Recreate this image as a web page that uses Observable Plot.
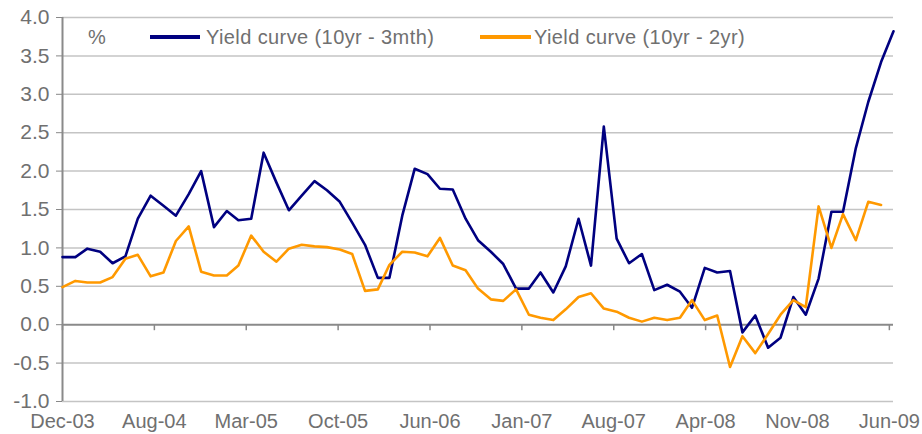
<!DOCTYPE html>
<html><head><meta charset="utf-8">
<script src="https://cdn.jsdelivr.net/npm/d3@7"></script>
<script src="https://cdn.jsdelivr.net/npm/@observablehq/plot@0.6"></script>
<style>
html,body{margin:0;padding:0;background:#fff;}
#wrap{position:relative;width:922px;height:434px;overflow:hidden;font-family:"Liberation Sans",Arial,sans-serif;}
#wrap svg{display:block;}
.leg{position:absolute;top:25px;height:24px;line-height:24px;font-size:20px;color:#707070;letter-spacing:0.4px;white-space:nowrap;}
.sw{position:absolute;height:4px;top:35px;}
</style></head><body><div id="wrap"></div>
<script>
// Series names
const seriesNames = ["Yield curve (10yr - 3mth)", "Yield curve (10yr - 2yr)"];
// Monthly values, Dec-03 .. Jun-09 (month ends)
const curve10y3m = [0.88,0.88,0.99,0.95,0.80,0.89,1.38,1.68,1.55,1.42,1.70,2.00,1.27,1.48,1.36,1.38,2.24,1.85,1.49,1.68,
  1.87,1.75,1.60,1.33,1.04,0.61,0.61,1.42,2.03,1.96,1.77,1.76,1.38,1.10,0.95,0.79,0.47,0.47,0.68,0.42,
  0.76,1.38,0.77,2.58,1.12,0.80,0.92,0.45,0.52,0.43,0.22,0.74,0.68,0.70,-0.10,0.12,-0.30,-0.17,0.36,0.13,
  0.60,1.47,1.47,2.30,2.90,3.42,3.82];
const curve10y2y = [0.49,0.57,0.55,0.55,0.62,0.86,0.91,0.63,0.68,1.09,1.28,0.69,0.64,0.64,0.77,1.16,0.95,0.82,0.99,1.04,
  1.02,1.01,0.98,0.92,0.44,0.46,0.78,0.95,0.94,0.89,1.13,0.77,0.71,0.47,0.33,0.31,0.46,0.13,0.09,0.06,
  0.20,0.36,0.41,0.21,0.17,0.09,0.04,0.09,0.06,0.09,0.32,0.06,0.12,-0.55,-0.15,-0.37,-0.12,0.13,0.32,0.23,
  1.54,1.00,1.44,1.10,1.60,1.56];
const xTickLabels = ["Dec-03","Aug-04","Mar-05","Oct-05","Jun-06","Jan-07","Aug-07","Apr-08","Nov-08","Jun-09"];
const yTicks = [-1,-0.5,0,0.5,1,1.5,2,2.5,3,3.5,4];
const colors = ["#000080", "#ff9900"];

const dates = curve10y3m.map((_, i) => new Date(Date.UTC(2004, i, 0)));
const tickDates = xTickLabels.map((_, k) => d3.utcDay.offset(dates[0], 222 * k));
const rows3m = curve10y3m.map((v, i) => ({date: dates[i], value: v}));
const rows2y = curve10y2y.map((v, i) => ({date: dates[i], value: v}));

const chart = Plot.plot({
  width: 922, height: 434,
  marginLeft: 62, marginRight: 29, marginTop: 17, marginBottom: 33,
  style: {fontFamily: "Liberation Sans, Arial, sans-serif", fontSize: "20px", color: "#707070", background: "white"},
  x: {type: "utc", domain: [dates[0], dates[dates.length - 1]]},
  y: {domain: [-1, 4]},
  marks: [
    Plot.ruleY(yTicks.filter(d => d !== 0), {stroke: "#c4c4c4", strokeWidth: 1.5}),
    Plot.ruleX(tickDates, {x: d => d, y1: () => 0, y2: () => 0, insetBottom: -6, stroke: "#888", strokeWidth: 1.5}),
    Plot.ruleY([0], {stroke: "#8a8a8a", strokeWidth: 2}),
    Plot.ruleX([dates[0]], {stroke: "#8a8a8a", strokeWidth: 2}),
    Plot.axisY({ticks: yTicks, tickFormat: d => d.toFixed(1), tickSize: 6, tickPadding: 7, stroke: "#888", label: null, fontSize: 21}),
    Plot.axisX({ticks: tickDates, tickFormat: d => xTickLabels[tickDates.findIndex(t => +t === +d)], tickSize: 0, tickPadding: 12, label: null}),
    Plot.line(rows3m, {x: "date", y: "value", stroke: colors[0], strokeWidth: 2.6}),
    Plot.line(rows2y, {x: "date", y: "value", stroke: colors[1], strokeWidth: 2.6})
  ]
});
const wrap = document.getElementById("wrap");
wrap.appendChild(chart);

function add(cls, css, text) {
  const el = document.createElement("div");
  el.className = cls;
  Object.assign(el.style, css);
  if (text) el.textContent = text;
  wrap.appendChild(el);
}
add("leg", {left: "88px"}, "%");
add("sw", {left: "150px", width: "50px", background: colors[0]});
add("leg", {left: "206px"}, seriesNames[0]);
add("sw", {left: "480px", width: "51px", background: colors[1]});
add("leg", {left: "534px"}, seriesNames[1]);
</script>
</body></html>
